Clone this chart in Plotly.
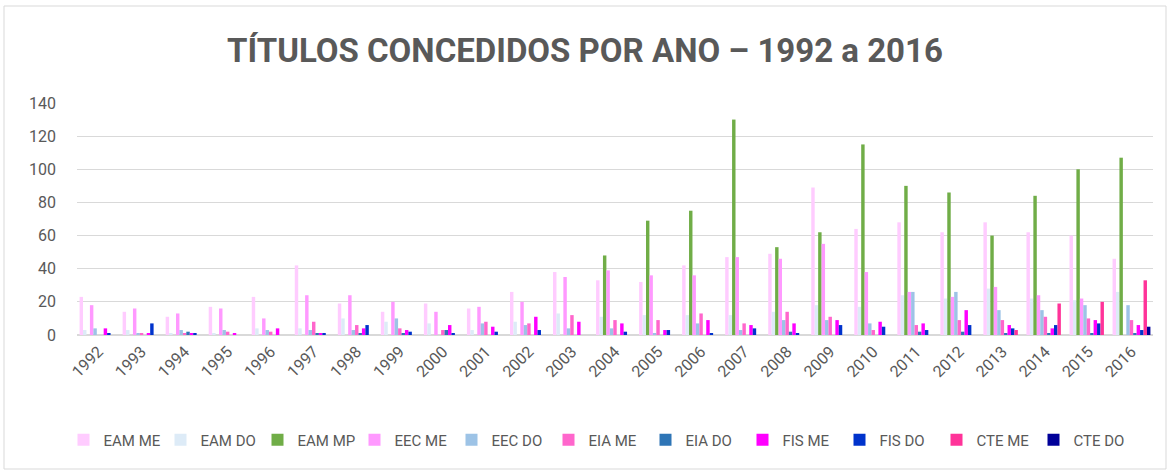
import plotly.graph_objects as go

years = [str(y) for y in range(1992, 2017)]

eam_me = [23, 14, 11, 17, 23, 42, 19, 14, 19, 16, 26, 38, 33, 32, 42, 47, 49, 89, 64, 68, 62, 68, 62, 60, 46]
eam_do = [3, 3, 1, 1, 4, 4, 10, 8, 7, 3, 8, 13, 11, 12, 12, 12, 14, 18, 17, 24, 22, 28, 22, 21, 26]
eam_mp = [0, 0, 0, 0, 0, 0, 0, 0, 0, 0, 0, 0, 48, 69, 75, 130, 53, 62, 115, 90, 86, 60, 84, 100, 107]
eec_me = [18, 16, 13, 16, 10, 24, 24, 20, 14, 17, 20, 35, 39, 36, 36, 47, 46, 55, 38, 26, 23, 29, 24, 22, 0]
eec_do = [4, 1, 3, 3, 3, 3, 3, 10, 0, 7, 6, 4, 4, 1, 7, 3, 9, 9, 7, 26, 26, 15, 15, 18, 18]
eia_me = [0, 1, 1, 2, 2, 8, 6, 4, 3, 8, 7, 12, 9, 9, 13, 7, 14, 11, 3, 6, 9, 9, 11, 10, 9]
eia_do = [0, 0, 2, 0, 0, 1, 1, 1, 3, 0, 0, 0, 0, 0, 0, 0, 2, 0, 0, 2, 2, 1, 1, 1, 1]
fis_me = [4, 1, 1, 1, 4, 1, 4, 3, 6, 5, 11, 8, 7, 3, 9, 6, 7, 9, 8, 7, 15, 6, 4, 9, 6]
fis_do = [1, 7, 1, 0, 0, 1, 6, 2, 1, 2, 3, 0, 2, 3, 1, 4, 1, 6, 5, 3, 6, 4, 6, 7, 3]
cte_me = [0] * 21 + [3, 19, 20, 33]
cte_do = [0] * 24 + [5]

series_names = ["EAM ME", "EAM DO", "EAM MP", "EEC ME", "EEC DO", "EIA ME",
                "EIA DO", "FIS ME", "FIS DO", "CTE ME", "CTE DO"]
series_values = [eam_me, eam_do, eam_mp, eec_me, eec_do, eia_me,
                 eia_do, fis_me, fis_do, cte_me, cte_do]
colors = ["#FFCCFF", "#DDEBF7", "#70AD47", "#FF99FF", "#9DC3E6", "#FF66CC",
          "#2E75B6", "#FF00FF", "#0033CC", "#FF3399", "#000099"]

FONT = "Roboto, sans-serif"
GRAY = "#595959"

fig = go.Figure()
for name, vals, col in zip(series_names, series_values, colors):
    fig.add_trace(go.Bar(x=years, y=vals, name=name, marker_color=col,
                         marker_line_width=0))

# plot area geometry (px)
L, R, T, B = 77, 1153, 103, 335
W, H = 1175, 474

def px_x(p):
    return (p - L) / (R - L)

def px_y(p):
    return (B - p) / (B - T)

fig.add_shape(type="rect", xref="paper", yref="paper",
              x0=px_x(4), x1=px_x(1166), y0=px_y(469), y1=px_y(6),
              line=dict(color="#D9D9D9", width=1), fillcolor="rgba(0,0,0,0)",
              layer="below")

fig.update_layout(
    width=W, height=H,
    margin=dict(l=L, r=W - R, t=T, b=H - B, autoexpand=False),
    paper_bgcolor="white", plot_bgcolor="white",
    barmode="group", bargap=0.12, bargroupgap=0,
    font=dict(family=FONT, color=GRAY, size=16),
    title=dict(text="<b>TÍTULOS CONCEDIDOS POR ANO – 1992 a 2016</b>",
               x=585 / W, xanchor="center", y=1 - 50 / H, yanchor="middle",
               font=dict(family=FONT, size=33, color=GRAY)),
    legend=dict(orientation="h", xref="container", x=597 / W, xanchor="center",
                yref="container", y=1 - 440 / H, yanchor="middle",
                font=dict(size=15, color=GRAY), itemwidth=30,
                entrywidth=52, entrywidthmode="pixels",
                traceorder="normal"),
    showlegend=True,
)
fig.update_xaxes(type="category", tickangle=-45, showgrid=False, automargin=False,
                 showline=True, linecolor="#D9D9D9", linewidth=1,
                 ticks="", tickfont=dict(size=16, color=GRAY))
fig.update_yaxes(range=[0, 140], dtick=20, showgrid=True, gridcolor="#D9D9D9",
                 gridwidth=1, zeroline=True, zerolinecolor="#D9D9D9", automargin=False,
                 ticks="", ticklabelstandoff=20, tickfont=dict(size=16, color=GRAY))

fig.write_html("out.html", config={"displayModeBar": False},
               post_script="document.body.style.margin='0px';document.body.style.overflow='hidden';")
